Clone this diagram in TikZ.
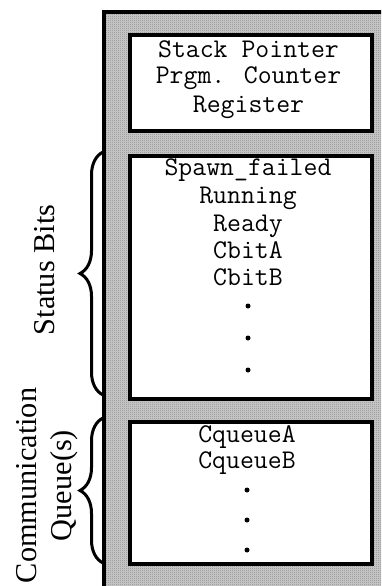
\documentclass[tikz,border=0pt]{standalone}
\usepackage{fontspec}
\setmainfont{Liberation Serif}
\usetikzlibrary{patterns,decorations.pathreplacing}

% fine checkerboard used as the background texture of the frame
\pgfdeclarepatternformonly{checks}{\pgfqpoint{0pt}{0pt}}{\pgfqpoint{2pt}{2pt}}{\pgfqpoint{2pt}{2pt}}{%
  \pgfpathrectangle{\pgfqpoint{0pt}{0pt}}{\pgfqpoint{1pt}{1pt}}%
  \pgfpathrectangle{\pgfqpoint{1pt}{1pt}}{\pgfqpoint{1pt}{1pt}}%
  \pgfusepath{fill}}

\tikzset{
  frame/.style={line width=4pt, draw=black, preaction={fill=gray!40},
                pattern=checks, pattern color=black!45},
  regbox/.style={line width=4pt, draw=black, fill=white},
  mono/.style={font=\fontsize{27}{30}\selectfont\ttfamily, inner sep=0pt, anchor=base},
  lbl/.style={font=\fontsize{30.3}{35.5}\selectfont, rotate=90, align=center, inner sep=0pt},
  brc/.style={line width=3pt, decorate, decoration={brace, amplitude=23pt}},
  dotmark/.style={circle, fill=black, inner sep=0pt, minimum size=5pt}
}

\begin{document}
\begin{tikzpicture}[x=1pt, y=-1pt]
  \useasboundingbox (0,0) rectangle (381,586);
  \clip (0,0) rectangle (381,586);

  % outer frame (runs past the right and bottom edges)
  \draw[frame] (104,12) rectangle (400,610);

  % register boxes
  \node[regbox, minimum width=242pt, minimum height=95pt, anchor=north west] (regs) at (127.5,33.5) {};
  \node[regbox, minimum width=242pt, minimum height=243pt, anchor=north west] (status) at (127.5,153.5) {};
  \node[regbox, minimum width=242pt, minimum height=142pt, anchor=north west] (queues) at (127.5,419.5) {};

  % register contents
  \node[mono] (sp) at (248.5,57) {Stack Pointer};
  \node[mono] (pc) at (248.5,84) {Prgm. Counter};
  \node[mono] (rg) at (248.5,112) {Register};

  % status bits
  \node[mono] (sf) at (248,175) {Spawn\_failed};
  \node[mono] (rn) at (248,203) {Running};
  \node[mono] (rd) at (248,231) {Ready};
  \node[mono] (ca) at (248,258) {CbitA};
  \node[mono] (cb) at (248,285) {CbitB};
  \node[dotmark] (s1) at (248,306) {};
  \node[dotmark] (s2) at (248,338) {};
  \node[dotmark] (s3) at (248,370) {};

  % communication queues
  \node[mono] (qa) at (247,442) {CqueueA};
  \node[mono] (qb) at (247,468) {CqueueB};
  \node[dotmark] (q1) at (247,490) {};
  \node[dotmark] (q2) at (247,520) {};
  \node[dotmark] (q3) at (247,550) {};

  % braces and their labels
  \coordinate (sb0) at (103,395);
  \coordinate (sb1) at (103,152);
  \coordinate (cq0) at (103,563);
  \coordinate (cq1) at (103,418);
  \draw[brc] (sb0) -- (sb1);
  \draw[brc] (cq0) -- (cq1);
  \node[lbl] (sbl) at (45,270) {Status Bits};
  \node[lbl] (cql) at (47,485.5) {Communication\\Queue(s)};
\end{tikzpicture}
\end{document}
